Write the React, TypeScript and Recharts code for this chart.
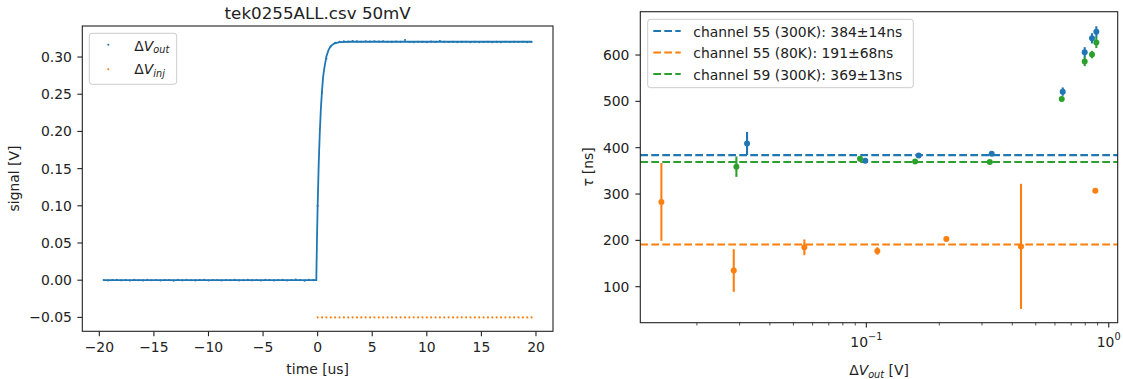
import React from 'react';
import { ComposedChart, ScatterChart, Scatter, Line, XAxis, YAxis, ErrorBar, ReferenceLine } from 'recharts';

const FONT = '"DejaVu Sans", sans-serif';
const INK = '#222';
const C0 = '#1f77b4';
const C1 = '#ff7f0e';
const C2 = '#2ca02c';
const LW = 2.08; // 1.5pt at 100 dpi
const DASH = '7.7 3.3';

// ---- scope trace (tek0255ALL.csv), 0.4 us sampling ----
const outTime = [
  -19.6, -19.2, -18.8, -18.4, -18.0, -17.6, -17.2, -16.8, -16.4, -16.0,
  -15.6, -15.2, -14.8, -14.4, -14.0, -13.6, -13.2, -12.8, -12.4, -12.0,
  -11.6, -11.2, -10.8, -10.4, -10.0, -9.6, -9.2, -8.8, -8.4, -8.0,
  -7.6, -7.2, -6.8, -6.4, -6.0, -5.6, -5.2, -4.8, -4.4, -4.0,
  -3.6, -3.2, -2.8, -2.4, -2.0, -1.6, -1.2, -0.8, -0.4,
  0.0, 0.4, 0.8, 1.2, 1.6, 2.0,
  2.4, 2.8, 3.2, 3.6, 4.0, 4.4, 4.8, 5.2, 5.6, 6.0,
  6.4, 6.8, 7.2, 7.6, 8.0, 8.4, 8.8, 9.2, 9.6, 10.0,
  10.4, 10.8, 11.2, 11.6, 12.0, 12.4, 12.8, 13.2, 13.6, 14.0,
  14.4, 14.8, 15.2, 15.6, 16.0, 16.4, 16.8, 17.2, 17.6, 18.0,
  18.4, 18.8, 19.2, 19.6,
];
const outSignal = [
  0.0003, -0.0004, 0.0002, 0.0005, -0.0002, 0.0001, -0.0005, 0.0004, 0.0, -0.0003,
  0.0006, -0.0001, 0.0002, -0.0004, 0.0003, 0.0001, -0.0006, 0.0004, -0.0002, 0.0005,
  0.0, -0.0003, 0.0002, 0.0006, -0.0004, 0.0001, 0.0003, -0.0005, 0.0002, -0.0001,
  0.0004, -0.0003, 0.0, 0.0005, -0.0002, 0.0003, -0.0004, 0.0006, 0.0001, -0.0003,
  0.0002, 0.0004, -0.0005, 0.0003, 0.0007, 0.0002, -0.0006, 0.0005, 0.0001,
  0.100, 0.252, 0.298, 0.314, 0.319, 0.3205,
  0.3212, 0.3208, 0.3214, 0.3210, 0.3206, 0.3211, 0.3209, 0.3213, 0.3207, 0.3212,
  0.3205, 0.3203, 0.3208, 0.3204, 0.3228, 0.3201, 0.3199, 0.3206, 0.3203, 0.3200,
  0.3207, 0.3202, 0.3215, 0.3205, 0.3201, 0.3204, 0.3199, 0.3203, 0.3206, 0.3200,
  0.3204, 0.3198, 0.3202, 0.3206, 0.3200, 0.3203, 0.3199, 0.3205, 0.3201, 0.3204,
  0.3202, 0.3206, 0.3200, 0.3203,
];
const injSignal = [
  -0.05, -0.05, -0.05, -0.05, -0.05, -0.05, -0.05, -0.05, -0.05, -0.05,
  -0.05, -0.05, -0.05, -0.05, -0.05, -0.05, -0.05, -0.05, -0.05, -0.05,
  -0.05, -0.05, -0.05, -0.05, -0.05, -0.05, -0.05, -0.05, -0.05, -0.05,
  -0.05, -0.05, -0.05, -0.05, -0.05, -0.05, -0.05, -0.05, -0.05, -0.05,
  -0.05, -0.05, -0.05, -0.05, -0.05, -0.05, -0.05, -0.05, -0.05, -0.05,
];
// exponential fit to the rising edge
const fitTime = [-19.6, -0.123, -0.1, -0.05, 0.0, 0.1, 0.2, 0.3, 0.4, 0.5, 0.6, 0.8, 1.0, 1.2, 1.5, 2.0, 3.0, 19.6];
const fitSignal = [0, 0, 0.0216, 0.064, 0.1, 0.158, 0.2, 0.232, 0.255, 0.273, 0.284, 0.3008, 0.3096, 0.3146, 0.3181, 0.32, 0.3205, 0.3205];

const timeTicks = [-20, -15, -10, -5, 0, 5, 10, 15, 20];
const signalTicks = [-0.05, 0, 0.05, 0.1, 0.15, 0.2, 0.25, 0.3];

// ---- rise time vs pulse height ----
const ch55WarmV = [0.0322, 0.099, 0.1644, 0.329, 0.646, 0.796, 0.853, 0.889];
const ch55WarmTau = [409, 372, 383, 387, 521, 606, 636, 650];
const ch55WarmErr = [25, 5, 4, 4, 9, 11, 11, 12];

const ch55ColdV = [0.01427, 0.02838, 0.0555, 0.111, 0.2138, 0.4346, 0.8805];
const ch55ColdTau = [283, 135, 185, 177, 203, 187, 307];
const ch55ColdErr = [84, 46, 17, 8, 4, 135, 3];

const ch59WarmV = [0.0291, 0.0942, 0.1589, 0.323, 0.64, 0.796, 0.853, 0.889];
const ch59WarmTau = [359, 376, 370, 369, 505, 586, 601, 627];
const ch59WarmErr = [22, 6, 3, 3, 5, 10, 8, 12];

const meanTau = [384, 191, 369];
const spreadTau = [14, 68, 13];
const seriesNames = ['channel 55 (300K)', 'channel 55 (80K)', 'channel 59 (300K)'];
const seriesColors = [C0, C1, C2];

const tauTicks = [100, 200, 300, 400, 500, 600];
const majorV = [0.1, 1];
const minorV = [0.02, 0.03, 0.04, 0.05, 0.06, 0.07, 0.08, 0.09, 0.2, 0.3, 0.4, 0.5, 0.6, 0.7, 0.8, 0.9];

const pts = (xs: number[], ys: number[]) => xs.map((x, i) => ({ x, y: ys[i] }));
const errPts = (xs: number[], ys: number[], es: number[]) => xs.map((x, i) => ({ x, y: ys[i], err: es[i] }));

const outPoints = pts(outTime, outSignal);
const injPoints = pts(outTime.filter((t) => t >= 0), injSignal);
const fitPoints = pts(fitTime, fitSignal);

const tickStyle = { fontSize: 13.9, fill: INK, fontFamily: FONT };
const tickLine = { stroke: INK, strokeWidth: 1.1 };
const minus = (s: string) => s.replace('-', '\u2212');

const dot = (color: string, r: number) => (p: any) => <circle cx={p.cx} cy={p.cy} r={r} fill={color} />;

const LogTick = (props: any) => {
  const { x, y, payload } = props;
  const v = payload.value;
  const major = majorV.includes(v);
  const exp = minus(String(Math.round(Math.log10(v))));
  return (
    <g>
      <line x1={x} x2={x} y1={y} y2={y + (major ? 4.9 : 2.8)} stroke={INK} strokeWidth={major ? 1.1 : 0.8} />
      {major && (
        <text x={x} y={y + 24.5} textAnchor="middle" fontSize={13.9} fill={INK} fontFamily={FONT}>
          10<tspan dy={-7} fontSize={9.7}>{exp}</tspan>
        </text>
      )}
    </g>
  );
};

const DV = ({ sub, size }: { sub: string; size: number }) => (
  <>
    <tspan>Δ</tspan>
    <tspan fontStyle="italic">V</tspan>
    <tspan fontStyle="italic" fontSize={size * 0.7} dy={size * 0.18}>{sub}</tspan>
  </>
);

export default function App() {
  return (
    <div style={{ position: 'absolute', left: 0, top: 0, width: 1123, height: 379, background: '#fff' }}>
      <div style={{ position: 'absolute', left: 0, top: 0 }}>
        <ComposedChart width={560} height={379} margin={{ top: 26, right: 7, bottom: 0, left: 0.3 }}>
          <XAxis
            dataKey="x" type="number" domain={[-21.56, 21.56]} allowDataOverflow
            ticks={timeTicks} interval={0} height={47.7}
            tickSize={4.9} tickMargin={6} tick={tickStyle}
            tickFormatter={(v: number) => minus(String(v))}
            axisLine={false} tickLine={tickLine}
          />
          <YAxis
            dataKey="y" type="number" domain={[-0.0687, 0.3417]} allowDataOverflow
            ticks={signalTicks} interval={0} width={82}
            tickSize={4.9} tickMargin={5.5} tick={tickStyle}
            tickFormatter={(v: number) => minus(v.toFixed(2))}
            axisLine={false} tickLine={tickLine}
          />
          <Scatter data={outPoints} fill={C0} shape={dot(C0, 1.05)} isAnimationActive={false} />
          <Line data={fitPoints} dataKey="y" type="linear" stroke={C0} strokeWidth={1.8} dot={false} isAnimationActive={false} />
          <Scatter data={injPoints} fill={C1} shape={dot(C1, 1.05)} isAnimationActive={false} />
        </ComposedChart>
      </div>

      <div style={{ position: 'absolute', left: 560, top: 0 }}>
        <ScatterChart width={563} height={379} margin={{ top: 11.7, right: 5.3, bottom: 0, left: 0.3 }}>
          <XAxis
            dataKey="x" type="number" scale="log" domain={[0.01168, 1.089]} allowDataOverflow
            ticks={[...majorV, ...minorV]} interval={0} height={56.3}
            tickSize={0} tickMargin={0} tickLine={false} tick={<LogTick />}
            axisLine={false}
          />
          <YAxis
            dataKey="y" type="number" domain={[22.3, 693.5]} allowDataOverflow
            ticks={tauTicks} interval={0} width={80}
            tickSize={4.9} tickMargin={6} tick={tickStyle}
            axisLine={false} tickLine={tickLine}
          />
          <Scatter data={errPts(ch55WarmV, ch55WarmTau, ch55WarmErr)} fill={C0} shape={dot(C0, 3)} isAnimationActive={false}>
            <ErrorBar dataKey="err" direction="y" width={0} stroke={C0} strokeWidth={LW} isAnimationActive={false} />
          </Scatter>
          <Scatter data={errPts(ch55ColdV, ch55ColdTau, ch55ColdErr)} fill={C1} shape={dot(C1, 3)} isAnimationActive={false}>
            <ErrorBar dataKey="err" direction="y" width={0} stroke={C1} strokeWidth={LW} isAnimationActive={false} />
          </Scatter>
          <Scatter data={errPts(ch59WarmV, ch59WarmTau, ch59WarmErr)} fill={C2} shape={dot(C2, 3)} isAnimationActive={false}>
            <ErrorBar dataKey="err" direction="y" width={0} stroke={C2} strokeWidth={LW} isAnimationActive={false} />
          </Scatter>
          {meanTau.map((m, i) => (
            <ReferenceLine key={i} y={m} stroke={seriesColors[i]} strokeWidth={LW} strokeDasharray={DASH} />
          ))}
        </ScatterChart>
      </div>

      <svg width={1123} height={379} style={{ position: 'absolute', left: 0, top: 0, pointerEvents: 'none' }} fontFamily={FONT} fill={INK}>
        {/* axes frames */}
        <rect x={82.3} y={26} width={553 - 82.3} height={331.3 - 26} fill="none" stroke={INK} strokeWidth={1.1} />
        <rect x={640.3} y={11.7} width={1117.7 - 640.3} height={322.7 - 11.7} fill="none" stroke={INK} strokeWidth={1.1} />

        <text x={317.7} y={19} textAnchor="middle" fontSize={16.7}>tek0255ALL.csv 50mV</text>
        <text x={317.7} y={374} textAnchor="middle" fontSize={13.9}>time [us]</text>
        <text transform="translate(18.5 178.5) rotate(-90)" textAnchor="middle" fontSize={13.9}>signal [V]</text>

        <rect x={89.3} y={33.3} width={87.4} height={51} rx={2.8} fill="#fff" fillOpacity={0.8} stroke="#ccc" strokeWidth={1} />
        <circle cx={108.3} cy={44.7} r={1.05} fill={C0} />
        <circle cx={108.3} cy={69.3} r={1.05} fill={C1} />
        <text x={134.3} y={50.5} fontSize={13.9}><DV sub="out" size={13.9} /></text>
        <text x={134.3} y={74.3} fontSize={13.9}><DV sub="inj" size={13.9} /></text>

        <text x={879} y={375} textAnchor="middle" fontSize={13.9}>
          <DV sub="out" size={13.9} />
          <tspan dy={-13.9 * 0.18}> [V]</tspan>
        </text>
        <text transform="translate(593 167.2) rotate(-90)" textAnchor="middle" fontSize={13.9}>
          <tspan fontStyle="italic">τ</tspan> [ns]
        </text>

        <rect x={647.7} y={19.3} width={265.6} height={68.4} rx={2.8} fill="#fff" fillOpacity={0.8} stroke="#ccc" strokeWidth={1} />
        {seriesNames.map((name, i) => (
          <g key={name}>
            <line x1={653.3} x2={680.7} y1={31 + i * 21.5} y2={31 + i * 21.5} stroke={seriesColors[i]} strokeWidth={LW} strokeDasharray={DASH} />
            <text x={693.3} y={36.8 + i * 21.5} fontSize={13.9}>{`${name}: ${meanTau[i]}±${spreadTau[i]}ns`}</text>
          </g>
        ))}
      </svg>
    </div>
  );
}
